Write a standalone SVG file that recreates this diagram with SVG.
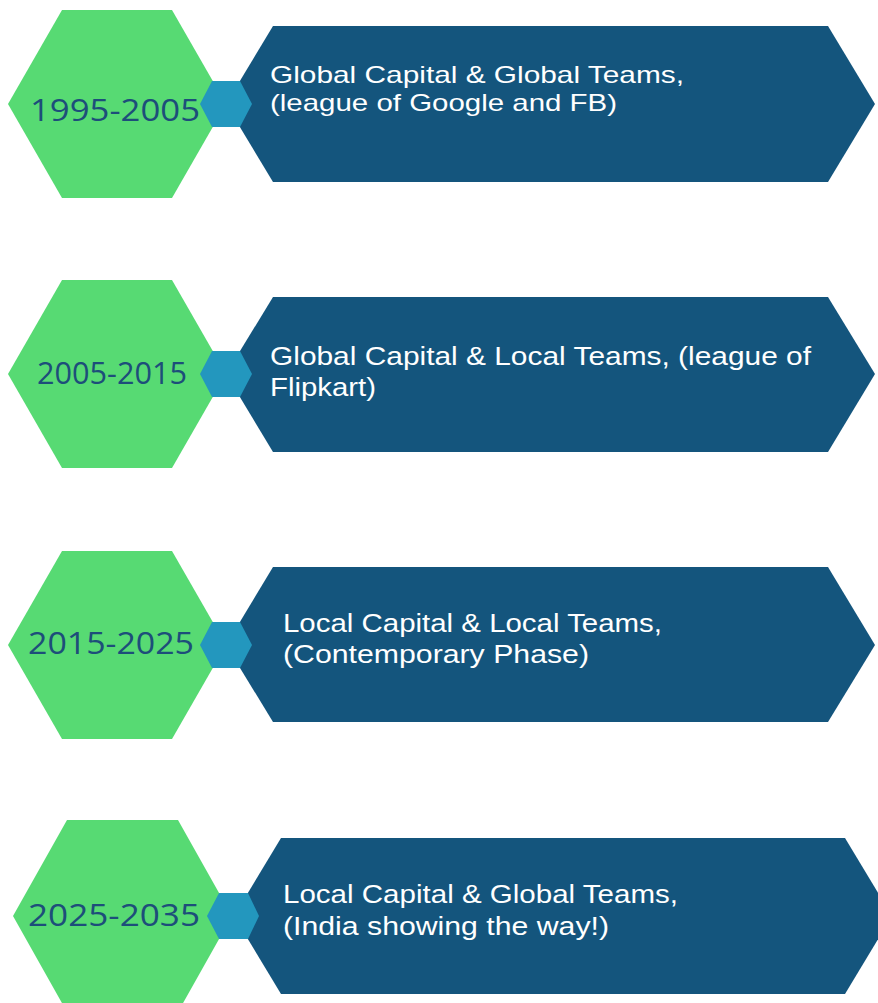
<svg xmlns="http://www.w3.org/2000/svg" width="878" height="1003" viewBox="0 0 878 1003">
  <style>
    .hexg { fill: #57DA73; }
    .band { fill: #14557D; }
    .link { fill: #2397BE; }
    .year { font-family: "Open Sans", "Liberation Sans", sans-serif; font-size: 31px; fill: #1D4E7A; }
    .desc { font-family: "Liberation Sans", Arial, sans-serif; font-size: 25px; fill: #FFFFFF; }
    .tight { font-size: 24px; }
  </style>
  <rect width="878" height="1003" fill="#FFFFFF"/>

  <g id="row1">
    <polygon class="hexg" points="8,104 62,10 172,10 226,104 172,198 62,198"/>
    <polygon class="band" points="226,104 273,26 828,26 875,104 828,182 273,182"/>
    <text class="year" x="30" y="121" textLength="170" lengthAdjust="spacingAndGlyphs">1995-2005</text>
    <text class="desc tight" x="270" y="83" textLength="414" lengthAdjust="spacingAndGlyphs">Global Capital &amp; Global Teams,</text>
    <text class="desc tight" x="270" y="111" textLength="347" lengthAdjust="spacingAndGlyphs">(league of Google and FB)</text>
  </g>

  <g id="row2">
    <polygon class="hexg" points="8,374 62,280 172,280 226,374 172,468 62,468"/>
    <polygon class="band" points="226,374 273,297 828,297 875,374 828,452 273,452"/>
    <text class="year" x="37" y="384" textLength="150" lengthAdjust="spacingAndGlyphs">2005-2015</text>
    <text class="desc" x="270" y="365" textLength="541" lengthAdjust="spacingAndGlyphs">Global Capital &amp; Local Teams, (league of</text>
    <text class="desc" x="270" y="396" textLength="106" lengthAdjust="spacingAndGlyphs">Flipkart)</text>
  </g>

  <g id="row3">
    <polygon class="hexg" points="8,645 62,551 172,551 226,645 172,739 62,739"/>
    <polygon class="band" points="226,645 273,567 828,567 875,645 828,722 273,722"/>
    <text class="year" x="28" y="654" textLength="166" lengthAdjust="spacingAndGlyphs">2015-2025</text>
    <text class="desc" x="283" y="632" textLength="379" lengthAdjust="spacingAndGlyphs">Local Capital &amp; Local Teams,</text>
    <text class="desc" x="283" y="663" textLength="306" lengthAdjust="spacingAndGlyphs">(Contemporary Phase)</text>
  </g>

  <g id="row4">
    <polygon class="hexg" points="13,916 67,820 178,820 232,916 178,1012 67,1012"/>
    <polygon class="band" points="234,916 281,838 845,838 892,916 845,994 281,994"/>
    <text class="year" x="28" y="926" textLength="172" lengthAdjust="spacingAndGlyphs">2025-2035</text>
    <text class="desc" x="283" y="903" textLength="395" lengthAdjust="spacingAndGlyphs">Local Capital &amp; Global Teams,</text>
    <text class="desc" x="283" y="935" textLength="326" lengthAdjust="spacingAndGlyphs">(India showing the way!)</text>
  </g>

  <g id="connectors">
    <polygon class="link" points="200,104 212,81 240,81 252,104 240,127 212,127"/>
    <polygon class="link" points="200,374 212,351 240,351 252,374 240,397 212,397"/>
    <polygon class="link" points="200,645 212,622 240,622 252,645 240,668 212,668"/>
    <polygon class="link" points="207,916 219,893 248,893 259,916 248,939 219,939"/>
  </g>
</svg>
